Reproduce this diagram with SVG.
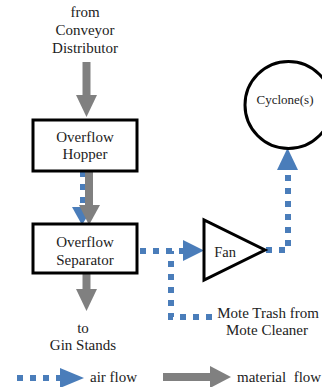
<svg xmlns="http://www.w3.org/2000/svg" width="322" height="387" viewBox="0 0 322 387">
<defs>
<style>
text{font-family:'Liberation Serif','DejaVu Serif','Times New Roman',serif;font-size:15px;fill:#222;text-anchor:middle}
.box{fill:#fff;stroke:#000;stroke-width:3}
.air{fill:none;stroke:#4a7dba;stroke-width:6;stroke-dasharray:6 7}
.airhead{fill:#4a7dba}
.mat{fill:none;stroke:#808080;stroke-width:8}
.mathead{fill:#808080}
</style>
</defs>
<rect width="322" height="387" fill="#fff"/>
<g id="labels">
<text x="85" y="17">from</text>
<text x="85" y="35">Conveyor</text>
<text x="85" y="53">Distributor</text>
<text x="83" y="333">to</text>
<text x="83" y="350">Gin Stands</text>
<text x="268" y="318">Mote Trash from</text>
<text x="267" y="335">Mote Cleaner</text>
</g>
<g id="connectors">
<path class="air" d="M83,171 V207"/>
<polygon class="airhead" points="72,207 93,207 82,225"/>
<line class="mat" x1="86.5" y1="62" x2="86.5" y2="96"/>
<polygon class="mathead" points="76,95 97,95 86.5,117"/>
<line class="mat" x1="89" y1="171" x2="89" y2="207"/>
<polygon class="mathead" points="79,205 100,205 89,225"/>
<line class="mat" x1="86.5" y1="274" x2="86.5" y2="290"/>
<polygon class="mathead" points="76,289 97,289 86.5,311"/>
<path class="air" d="M140,251 H183"/>
<polygon class="airhead" points="183,240 183,261 204,250.5"/>
<path class="air" d="M212,317 H171 V251"/>
<path class="air" d="M266,250 H288 V170"/>
<polygon class="airhead" points="277,170 298,170 287.5,148"/>
</g>
<g id="hopper">
<rect class="box" x="33" y="120" width="104" height="51"/>
<text x="85" y="142">Overflow</text>
<text x="85" y="159">Hopper</text>
</g>
<g id="separator">
<rect class="box" x="33" y="224" width="104" height="49"/>
<text x="85" y="247">Overflow</text>
<text x="85" y="265">Separator</text>
</g>
<g id="fan">
<polygon class="box" points="204,220 204,280 265,250"/>
<text x="225" y="257" style="font-size:14.5px">Fan</text>
</g>
<g id="cyclone">
<circle class="box" cx="288.5" cy="105" r="43.5"/>
<text x="285" y="104" style="font-size:13px">Cyclone(s)</text>
</g>
<g id="legend">
<path class="air" d="M17,378 H60"/>
<polygon class="airhead" points="60,368 60,388 84,378"/>
<text x="90" y="382" style="text-anchor:start">air flow</text>
<line class="mat" x1="163" y1="377" x2="211" y2="377"/>
<polygon class="mathead" points="210,366 210,388 231,377"/>
<text x="237" y="382" style="text-anchor:start;white-space:pre" xml:space="preserve">material  flow</text>
</g>
</svg>
